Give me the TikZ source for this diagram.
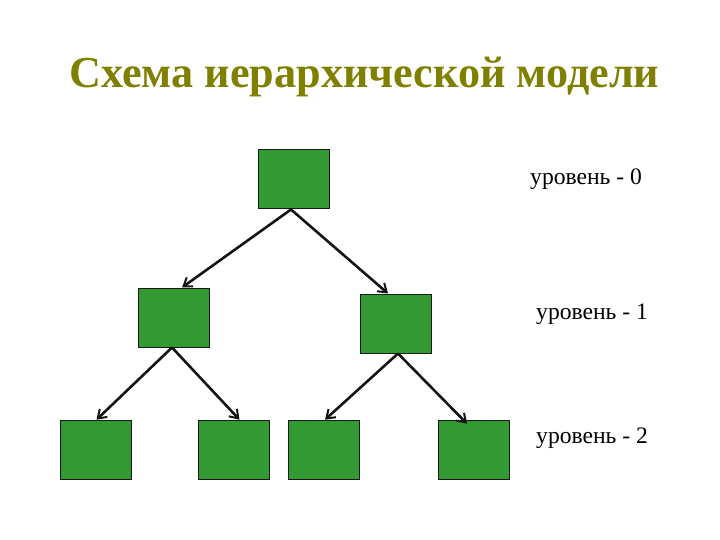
\documentclass[tikz,border=0pt]{standalone}
\usepackage{fontspec}
\setmainfont{Liberation Serif}
\usetikzlibrary{arrows.meta}
\definecolor{boxgreen}{RGB}{51,153,51}
\definecolor{titleolive}{RGB}{128,128,0}
\tikzset{
  levelbox/.style={draw=black!90, line width=1pt, fill=boxgreen, minimum width=71pt, minimum height=59pt, inner sep=0pt},
  link/.style={line width=2.6pt, draw=black!92, -{Straight Barb[length=8pt,width=11pt,line width=2pt]}},
  leveltext/.style={anchor=base west, inner sep=0pt, font=\fontsize{23.6}{26}\selectfont},
}
\begin{document}
\begin{tikzpicture}[x=1pt,y=-1pt]
\useasboundingbox (0,0) rectangle (720,540);
\node[anchor=base west, inner sep=0pt, text=titleolive, font=\fontsize{44.2}{50}\selectfont\bfseries] (title) at (69,88) {Схема иерархической модели};
\node[levelbox] (n0) at (293.5,179.5) {};
\node[levelbox] (n1a) at (174,317.5) {};
\node[levelbox] (n1b) at (396,323.5) {};
\node[levelbox] (n2a) at (96,449.7) {};
\node[levelbox] (n2b) at (234,449.7) {};
\node[levelbox] (n2c) at (324,449.7) {};
\node[levelbox] (n2d) at (474,449.7) {};
\draw[link] ([xshift=-2.5pt]n0.south) -- ([xshift=8pt]n1a.north);
\draw[link] ([xshift=-2.5pt]n0.south) -- ([xshift=-8pt]n1b.north);
\draw[link] ([xshift=-2pt]n1a.south) -- ([xshift=0.5pt]n2a.north);
\draw[link] ([xshift=-2pt]n1a.south) -- ([xshift=5.5pt]n2b.north);
\draw[link] ([xshift=2pt]n1b.south) -- ([xshift=1pt]n2c.north);
\draw[link] ([xshift=2pt]n1b.south) -- ([xshift=-7pt,yshift=-4pt]n2d.north);
\node[leveltext] (l0) at (530,185) {уровень - 0};
\node[leveltext] (l1) at (536,319) {уровень - 1};
\node[leveltext] (l2) at (536,443) {уровень - 2};
\end{tikzpicture}
\end{document}
